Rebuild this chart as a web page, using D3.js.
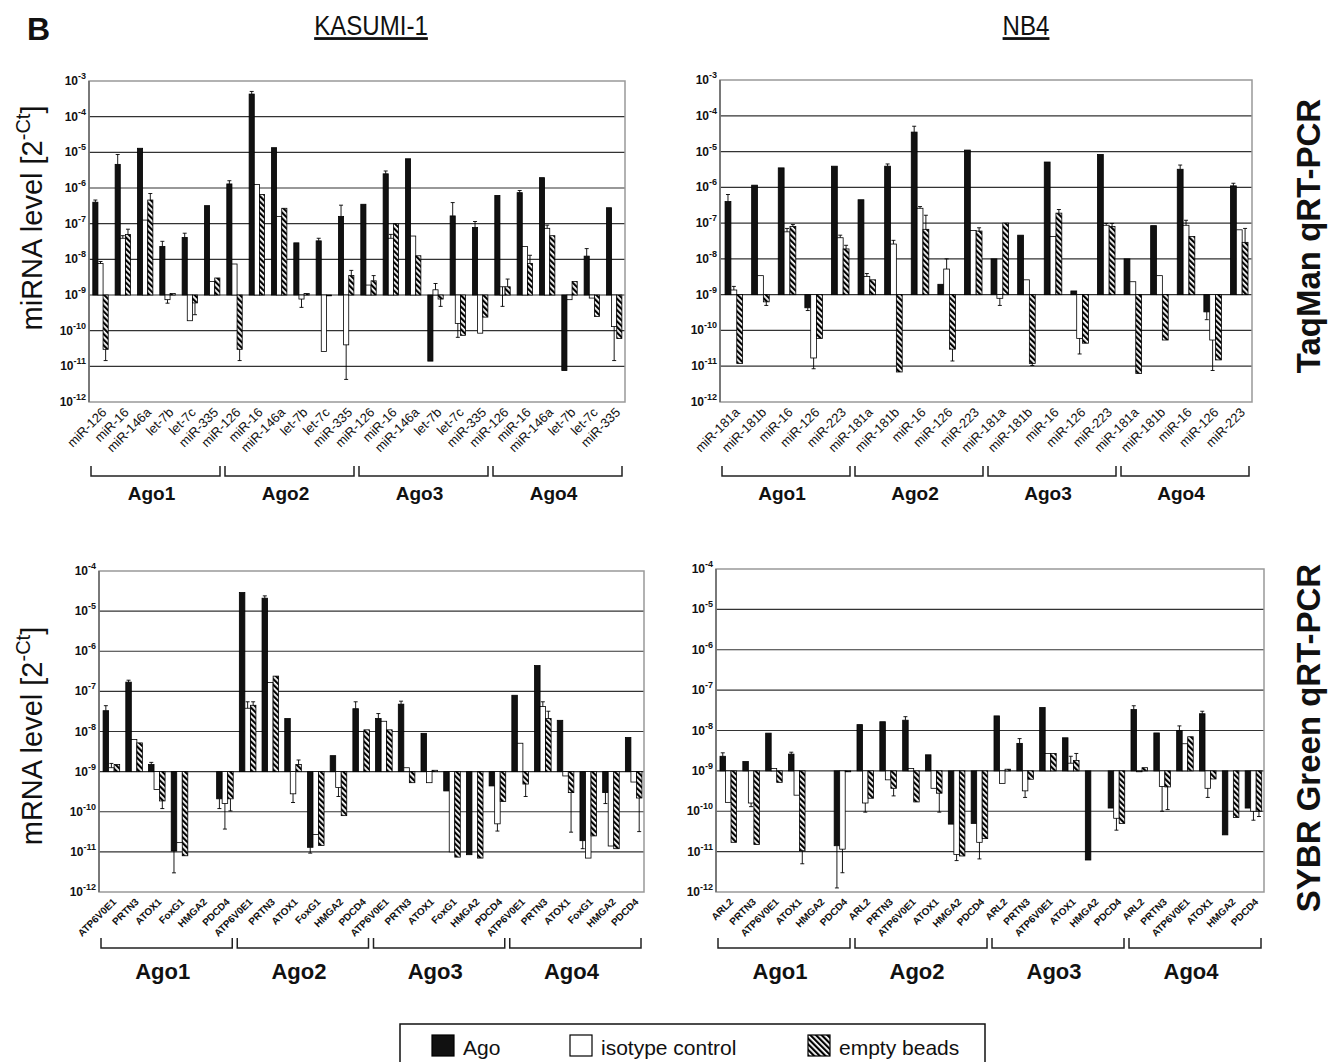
<!DOCTYPE html>
<html>
<head>
<meta charset="utf-8">
<script src="https://cdn.jsdelivr.net/npm/d3@7"></script>
<style>
  body { margin: 0; background: #fff; }
  svg { display: block; }
  text { font-family: "Liberation Sans", Arial, sans-serif; }
</style>
</head>
<body>
<svg id="fig" width="1332" height="1062"></svg>
<script>
// ---- data (2^-Ct) ----
const agoGroups = ['Ago1', 'Ago2', 'Ago3', 'Ago4'];
const seriesNames = ['Ago', 'isotype control', 'empty beads'];
const kasumiMirs = ['miR-126', 'miR-16', 'miR-146a', 'let-7b', 'let-7c', 'miR-335'];
const nb4Mirs = ['miR-181a', 'miR-181b', 'miR-16', 'miR-126', 'miR-223'];
const kasumiGenes = ['ATP6V0E1', 'PRTN3', 'ATOX1', 'FoxG1', 'HMGA2', 'PDCD4'];
const nb4Genes = ['ARL2', 'PRTN3', 'ATP6V0E1', 'ATOX1', 'HMGA2', 'PDCD4'];
const mirTickExps = [-3, -4, -5, -6, -7, -8, -9, -10, -11, -12];
const mrnaTickExps = [-4, -5, -6, -7, -8, -9, -10, -11, -12];

// KASUMI-1 miRNA (TaqMan)
const kasMiAgo = [4e-7, 4.6e-6, 1.3e-5, 2.3e-8, 4.1e-8, 3.2e-7,
  1.3e-6, 4.3e-4, 1.35e-5, 2.9e-8, 3.3e-8, 1.6e-7,
  3.5e-7, 2.5e-6, 6.6e-6, 1.4e-11, 1.65e-7, 7.8e-8,
  6.2e-7, 7.4e-7, 1.95e-6, 7.6e-12, 1.23e-8, 2.8e-7];
const kasMiIso = [7.6e-9, 3.9e-8, 1.26e-7, 7.4e-10, 1.9e-10, 2.4e-9,
  7.4e-9, 1.25e-6, 1.6e-7, 7.7e-10, 2.6e-11, 4e-11,
  1.9e-9, 3.9e-8, 4.5e-8, 1.4e-9, 1.6e-10, 8.5e-11,
  1.7e-9, 2.3e-8, 7.4e-8, 7.4e-10, 8.2e-10, 1.3e-10];
const kasMiBeads = [3e-11, 5e-8, 4.6e-7, 1.1e-9, 6e-10, 3e-9,
  3e-11, 6.6e-7, 2.7e-7, 1.1e-9, 9.5e-10, 3.5e-9,
  2.5e-9, 1e-7, 1.26e-8, 7.7e-10, 7.4e-11, 2.4e-10,
  1.7e-9, 7.7e-9, 4.6e-8, 2.4e-9, 2.5e-10, 6e-11];
const kasMiAgoErr = [4.6e-7, 8.7e-6, null, 3.2e-8, 5.4e-8, null,
  1.6e-6, 5.1e-4, null, null, 3.9e-8, 3.3e-7,
  null, 3e-6, null, null, 3.9e-7, 1.15e-7,
  null, 8.5e-7, null, null, 2e-8, null];
const kasMiIsoErr = [8.7e-9, 4.6e-8, null, 5.9e-10, null, null,
  null, null, null, 4.5e-10, null, 4.3e-12,
  null, 5e-8, null, 2.1e-9, 6.5e-11, null,
  4.8e-10, null, 9.1e-8, null, null, 1.45e-11];
const kasMiBeadsErr = [1.45e-11, 7e-8, 7e-7, null, 2.8e-10, null,
  1.45e-11, null, null, null, null, 4.9e-9,
  3.5e-9, null, null, 4.8e-10, null, null,
  2.8e-9, 1.3e-8, null, null, null, null];

// NB4 miRNA (TaqMan)
const nbMiAgo = [4e-7, 1.15e-6, 3.5e-6, 4.3e-10, 3.9e-6,
  4.5e-7, 3.9e-6, 3.5e-5, 1.95e-9, 1.1e-5,
  1e-8, 4.6e-8, 5.1e-6, 1.27e-9, 8.3e-6,
  1e-8, 8.5e-8, 3.2e-6, 3.3e-10, 1.1e-6];
const nbMiIso = [1.35e-9, 3.4e-9, 5.7e-8, 1.7e-11, 3.9e-8,
  3.2e-9, 2.6e-8, 2.6e-7, 5.2e-9, 6.2e-8,
  7.9e-10, 2.6e-9, 4.2e-8, 6e-11, 8.7e-8,
  2.3e-9, 3.4e-9, 8.7e-8, 5.4e-11, 6.5e-8];
const nbMiBeads = [1.2e-11, 6.3e-10, 8e-8, 6e-11, 1.9e-8,
  2.6e-9, 6.9e-12, 6.7e-8, 3e-11, 6e-8,
  1e-7, 1.2e-11, 1.9e-7, 4.4e-11, 8e-8,
  6.3e-12, 5.4e-11, 4.2e-8, 1.5e-11, 2.9e-8];
const nbMiAgoErr = [6.3e-7, null, null, 3.6e-10, null,
  null, 4.5e-6, 5.1e-5, null, null,
  null, null, null, null, null,
  null, null, 4.2e-6, 2e-10, 1.3e-6];
const nbMiIsoErr = [1.7e-9, null, 7.1e-8, 8.5e-12, 4.6e-8,
  3.9e-9, 3.3e-8, 2.9e-7, 1e-8, null,
  5e-10, null, null, 2.2e-11, 9.8e-8,
  null, null, 1.2e-7, 7.6e-12, null];
const nbMiBeadsErr = [null, 5e-10, 9.1e-8, null, 2.4e-8,
  null, null, 1.66e-7, 1.4e-11, 7.4e-8,
  null, 1.05e-11, 2.4e-7, null, 9.8e-8,
  null, null, null, null, 7.1e-8];

// KASUMI-1 mRNA (SYBR Green)
const kasMrAgo = [3.3e-8, 1.7e-7, 1.5e-9, 1.05e-11, null, 2.1e-10,
  2.9e-5, 2.1e-5, 2.1e-8, 1.3e-11, 2.5e-9, 3.7e-8,
  2.1e-8, 4.8e-8, 9e-9, 3.3e-10, 8.5e-12, 4.4e-10,
  8e-8, 4.4e-7, 1.9e-8, 1.9e-11, 3e-10, 7.1e-9];
const kasMrIso = [1.25e-9, 6.3e-9, 3.6e-10, 1.7e-11, null, 1.6e-10,
  3.8e-8, 1.66e-7, 2.8e-10, 2.7e-11, 4e-10, 1e-8,
  1.8e-8, 1.25e-9, 5.3e-10, 1e-11, null, 5e-11,
  5.1e-9, 4.2e-8, 7.8e-10, 7e-12, 1.4e-11, 5.5e-10];
const kasMrBeads = [1.5e-9, 5.2e-9, 1.86e-10, 8e-12, null, 2.1e-10,
  4.5e-8, 2.4e-7, 1.5e-9, 1.45e-11, 8e-11, 1.1e-8,
  1.1e-8, 5.3e-10, 1.08e-9, 7.4e-12, 7e-12, 1.8e-10,
  4.9e-10, 2.1e-8, 3e-10, 2.5e-11, 1.2e-11, 2.2e-10];
const kasMrAgoErr = [4.4e-8, 1.9e-7, 1.7e-9, 3e-12, null, 1.2e-10,
  null, 2.4e-5, null, 9.3e-12, null, 5.5e-8,
  2.8e-8, 5.7e-8, null, null, null, null,
  null, null, null, 1.2e-11, 1.6e-10, null];
const kasMrIsoErr = [1.6e-9, null, null, null, null, 3.7e-11,
  5.5e-8, null, 1.7e-10, null, 2.4e-10, null,
  null, null, null, null, null, 3.3e-11,
  null, 5.5e-8, null, null, null, null];
const kasMrBeadsErr = [null, null, 1.2e-10, null, null, 1.05e-10,
  5.5e-8, null, 1.95e-9, null, null, null,
  null, null, null, null, null, null,
  2.4e-10, 3.2e-8, 3.1e-11, null, null, 3.2e-11];

// NB4 mRNA (SYBR Green)
const nbMrAgo = [2.3e-9, 1.7e-9, 8.6e-9, 2.6e-9, null, 1.4e-11,
  1.4e-8, 1.65e-8, 1.8e-8, 2.5e-9, 4.8e-11, 5e-11,
  2.3e-8, 4.8e-9, 3.7e-8, 6.6e-9, 6.2e-12, 1.2e-10,
  3.3e-8, 8.7e-9, 1e-8, 2.6e-8, 2.6e-11, 1.2e-10];
const nbMrIso = [1.66e-10, 1.6e-10, 1.15e-9, 2.5e-10, null, 1.15e-11,
  1.6e-10, 6e-10, 1.15e-9, 3.7e-10, 8.5e-12, 1.7e-11,
  4.9e-10, 3.2e-10, 2.7e-9, 1.55e-9, null, 6.7e-11,
  9.5e-10, 4.1e-10, 4.7e-9, 3.7e-10, null, 1e-10];
const nbMrBeads = [1.7e-11, 1.5e-11, 5.2e-10, 1.05e-11, null, 9.5e-10,
  2.1e-10, 3.7e-10, 1.7e-10, 2.8e-10, 7.8e-12, 2.1e-11,
  1.1e-9, 6.2e-10, 2.7e-9, 1.8e-9, null, 5e-11,
  1.2e-9, 4e-10, 7e-9, 6.3e-10, 7e-11, 1e-10];
const nbMrAgoErr = [2.8e-9, null, null, 2.9e-9, null, 1.26e-12,
  null, null, 2.2e-8, null, null, null,
  null, 6.3e-9, null, null, null, null,
  4.1e-8, null, 1.3e-8, 3e-8, null, null];
const nbMrIsoErr = [null, 1.3e-10, null, null, null, 3e-12,
  9.5e-11, null, null, null, 6e-12, 6.6e-12,
  null, 2.2e-10, null, 2.3e-9, null, 3.4e-11,
  null, 1e-10, null, 2.2e-10, null, 6e-11];
const nbMrBeadsErr = [null, null, null, 5e-12, null, null,
  null, 2.4e-10, null, 9.5e-11, null, null,
  null, null, null, 2.7e-9, null, null,
  null, 1.1e-10, null, null, null, 7.4e-11];

const BASE = 1e-9;

// ---- panel layout ----
const panels = [
  { left: 89, right: 625, top: 81, bottom: 402, ticks: mirTickExps, cats: kasumiMirs, sub: [0.17, 0.86],
    vals: [kasMiAgo, kasMiIso, kasMiBeads], errs: [kasMiAgoErr, kasMiIsoErr, kasMiBeadsErr],
    labelSize: 13, labelWeight: 'normal', bracketY: 476, groupY: 500, groupSize: 19 },
  { left: 720, right: 1252, top: 80, bottom: 402, ticks: mirTickExps, cats: nb4Mirs, sub: [0.19, 0.85],
    vals: [nbMiAgo, nbMiIso, nbMiBeads], errs: [nbMiAgoErr, nbMiIsoErr, nbMiBeadsErr],
    labelSize: 13, labelWeight: 'normal', bracketY: 476, groupY: 500, groupSize: 19 },
  { left: 99, right: 644, top: 571, bottom: 892, ticks: mrnaTickExps, cats: kasumiGenes, sub: [0.18, 0.91],
    vals: [kasMrAgo, kasMrIso, kasMrBeads], errs: [kasMrAgoErr, kasMrIsoErr, kasMrBeadsErr],
    labelSize: 10, labelWeight: 'bold', bracketY: 948, groupY: 979, groupSize: 22 },
  { left: 716, right: 1264, top: 569, bottom: 892, ticks: mrnaTickExps, cats: nb4Genes, sub: [0.175, 0.9],
    vals: [nbMrAgo, nbMrIso, nbMrBeads], errs: [nbMrAgoErr, nbMrIsoErr, nbMrBeadsErr],
    labelSize: 10, labelWeight: 'bold', bracketY: 948, groupY: 979, groupSize: 22 },
];

const svg = d3.select('#fig');

// hatch pattern for empty beads
const pat = svg.append('defs').append('pattern')
  .attr('id', 'hatch')
  .attr('patternUnits', 'userSpaceOnUse')
  .attr('width', 4).attr('height', 4)
  .attr('patternTransform', 'rotate(-45)');
pat.append('rect').attr('width', 4).attr('height', 4).attr('fill', '#fff');
pat.append('rect').attr('width', 2.2).attr('height', 4).attr('fill', '#000');

const fills = ['#111', '#fff', 'url(#hatch)'];

function drawPanel(p) {
  const g = svg.append('g');
  const exps = p.ticks;
  const y = d3.scaleLog()
    .domain([Math.pow(10, d3.min(exps)), Math.pow(10, d3.max(exps))])
    .range([p.bottom, p.top]);

  const n = agoGroups.length * p.cats.length;
  const x = d3.scaleBand().domain(d3.range(n)).range([p.left, p.right]);
  const bw = x.bandwidth();
  const xs = d3.scaleBand().domain([0, 1, 2]).range([bw * p.sub[0], bw * p.sub[1]]);

  // grid lines
  g.append('g').selectAll('line')
    .data(exps.slice(1, -1))
    .join('line')
    .attr('x1', p.left).attr('x2', p.right)
    .attr('y1', d => y(Math.pow(10, d))).attr('y2', d => y(Math.pow(10, d)))
    .attr('stroke', '#333').attr('stroke-width', 1.2);

  // frame
  g.append('rect')
    .attr('x', p.left).attr('y', p.top)
    .attr('width', p.right - p.left).attr('height', p.bottom - p.top)
    .attr('fill', 'none').attr('stroke', '#999').attr('stroke-width', 1.5);
  g.append('line')
    .attr('x1', p.left).attr('x2', p.left).attr('y1', p.top).attr('y2', p.bottom)
    .attr('stroke', '#666').attr('stroke-width', 1.5);

  // y tick labels 10^n
  const tl = g.append('g').selectAll('text')
    .data(exps)
    .join('text')
    .attr('x', p.left - 3)
    .attr('y', d => y(Math.pow(10, d)) + 4)
    .attr('text-anchor', 'end')
    .attr('font-size', 12).attr('font-weight', 'bold').attr('fill', '#111');
  tl.append('tspan').text('10');
  tl.append('tspan').attr('dy', -6).attr('font-size', 9).text(d => '-' + Math.abs(d));

  // bars
  const y0 = y(BASE);
  p.vals.forEach((vals, s) => {
    const rows = vals.map((v, i) => ({ i, v, e: p.errs[s][i] })).filter(d => d.v != null);
    g.append('g').selectAll('rect')
      .data(rows)
      .join('rect')
      .attr('x', d => x(d.i) + xs(s))
      .attr('width', xs.bandwidth())
      .attr('y', d => Math.min(y(d.v), y0))
      .attr('height', d => Math.max(0.8, Math.abs(y(d.v) - y0)))
      .attr('fill', fills[s])
      .attr('stroke', '#000').attr('stroke-width', 0.8);

    const er = rows.filter(d => d.e != null);
    const eg = g.append('g').attr('stroke', '#000').attr('stroke-width', 0.9);
    eg.selectAll('line.stem')
      .data(er)
      .join('line')
      .attr('class', 'stem')
      .attr('x1', d => x(d.i) + xs(s) + xs.bandwidth() / 2)
      .attr('x2', d => x(d.i) + xs(s) + xs.bandwidth() / 2)
      .attr('y1', d => y(d.v)).attr('y2', d => y(d.e));
    eg.selectAll('line.cap')
      .data(er)
      .join('line')
      .attr('class', 'cap')
      .attr('x1', d => x(d.i) + xs(s) + xs.bandwidth() / 2 - 2)
      .attr('x2', d => x(d.i) + xs(s) + xs.bandwidth() / 2 + 2)
      .attr('y1', d => y(d.e)).attr('y2', d => y(d.e));
  });

  // category labels
  const labels = agoGroups.flatMap(() => p.cats);
  g.append('g').selectAll('text')
    .data(labels)
    .join('text')
    .attr('transform', (d, i) => `translate(${x(i) + bw / 2 + 4},${p.bottom + 8}) rotate(-45)`)
    .attr('text-anchor', 'end')
    .attr('dy', '0.35em')
    .attr('font-size', p.labelSize).attr('font-weight', p.labelWeight).attr('fill', '#111')
    .text(d => d);

  // group brackets
  const k = p.cats.length;
  const gb = g.append('g');
  agoGroups.forEach((name, gi) => {
    const gx0 = x(gi * k) + 2;
    const gx1 = x(gi * k + k - 1) + bw - 3;
    gb.append('path')
      .attr('d', `M${gx0},${p.bracketY - 10}V${p.bracketY}H${gx1}V${p.bracketY - 10}`)
      .attr('fill', 'none').attr('stroke', '#222').attr('stroke-width', 1.5);
    gb.append('text')
      .attr('x', (gx0 + gx1) / 2 - 4).attr('y', p.groupY)
      .attr('text-anchor', 'middle')
      .attr('font-size', p.groupSize).attr('font-weight', 'bold').attr('fill', '#111')
      .text(name);
  });
}

panels.forEach(drawPanel);

// y-axis titles
function yTitle(cx, cy, head) {
  const t = svg.append('text')
    .attr('transform', `translate(${cx},${cy}) rotate(-90)`)
    .attr('text-anchor', 'middle')
    .attr('font-size', 29).attr('fill', '#111');
  t.append('tspan').text(head + ' [2');
  t.append('tspan').attr('dy', -12).attr('font-size', 20).text('-Ct');
  t.append('tspan').attr('dy', 12).text(']');
}
yTitle(42, 218, 'miRNA level');
yTitle(42, 736, 'mRNA level');

// method labels on the right
[['TaqMan qRT-PCR', 236], ['SYBR Green qRT-PCR', 738]].forEach(([label, cy]) => {
  svg.append('text')
    .attr('transform', `translate(1320,${cy}) rotate(-90)`)
    .attr('text-anchor', 'middle')
    .attr('font-size', 33).attr('font-weight', 'bold').attr('fill', '#111')
    .text(label);
});

// header
svg.append('text').attr('x', 27).attr('y', 40)
  .attr('font-size', 32).attr('font-weight', 'bold').attr('fill', '#111').text('B');
[['KASUMI-1', 371], ['NB4', 1026]].forEach(([label, cx]) => {
  svg.append('text')
    .attr('transform', `translate(${cx},35) scale(0.86,1)`)
    .attr('text-anchor', 'middle')
    .attr('font-size', 28).attr('fill', '#111')
    .attr('text-decoration', 'underline')
    .text(label);
});

// legend
const lg = svg.append('g');
lg.append('rect').attr('x', 400).attr('y', 1024).attr('width', 585).attr('height', 60)
  .attr('fill', 'none').attr('stroke', '#111').attr('stroke-width', 1.5);
const legendX = [432, 570, 808];
seriesNames.forEach((name, s) => {
  lg.append('rect')
    .attr('x', legendX[s]).attr('y', 1035).attr('width', 22).attr('height', 21)
    .attr('fill', fills[s]).attr('stroke', '#000').attr('stroke-width', 1.2);
  lg.append('text')
    .attr('x', legendX[s] + 31).attr('y', 1055)
    .attr('font-size', 21).attr('fill', '#111')
    .text(name);
});
</script>
</body>
</html>
